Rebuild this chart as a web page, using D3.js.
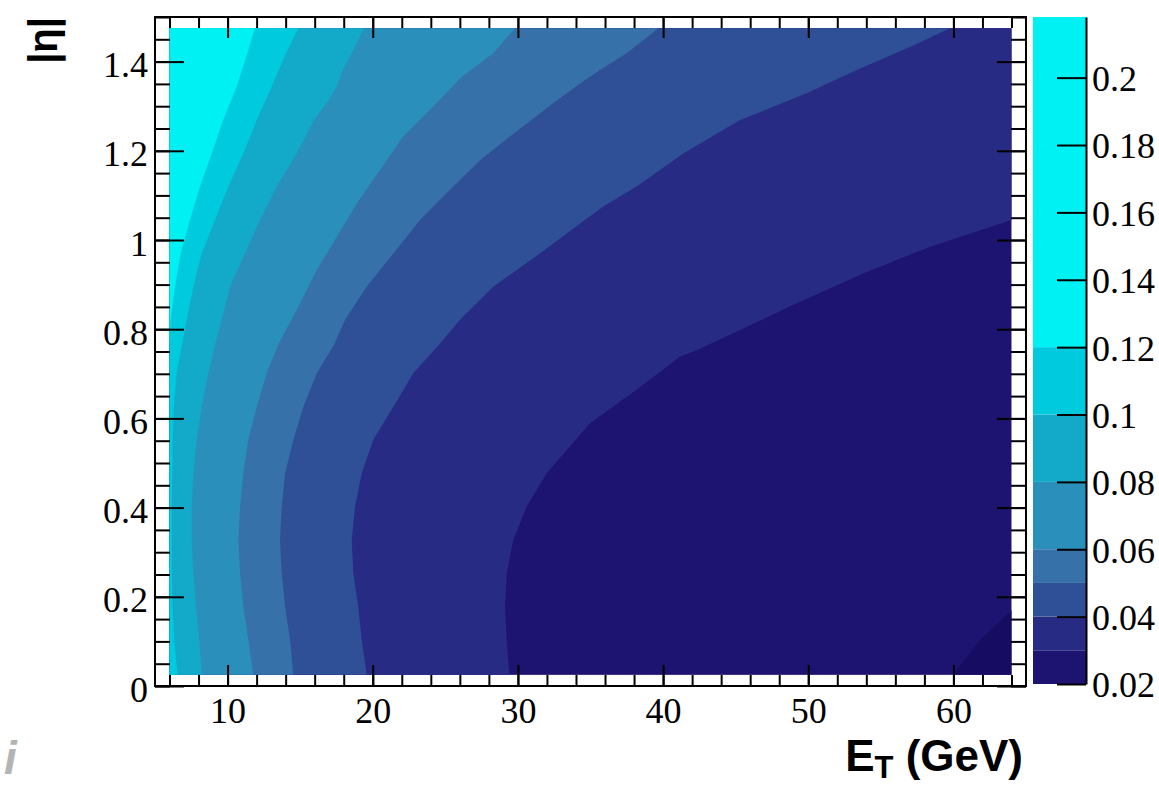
<!DOCTYPE html>
<html>
<head>
<meta charset="utf-8">
<script src="https://cdn.jsdelivr.net/npm/d3@7"></script>
<style>
  body { margin: 0; background: #fff; }
  svg { display: block; }
  .tick text { font-family: "Liberation Serif", "Times New Roman", serif; }
</style>
</head>
<body>
<svg id="chart" width="1159" height="789"></svg>
<script>
// histogram ranges (axis ranges and bin-centre extent of the filled area)
const etRange = [5, 65];
const etaRange = [0, 1.5];
const etCenters = [6, 64];
const etaCenters = [0.025, 1.475];
const zRange = [0.02, 0.218];

// contour levels and fill colours of the bands above each level
const levels = [0.02, 0.03, 0.04, 0.05, 0.06, 0.08, 0.10, 0.12];
const bandColors = ['#1d1371', '#272b84', '#2f5096', '#3672a9', '#2a8fbb', '#13aaca', '#00cadd', '#00f1f3'];
const belowColor = '#160d62';

// contour lines, [E_T, |eta|], from top/right edge to bottom/left edge
const contour012 = [[11.89, 1.475], [11.36, 1.419], [10.63, 1.344], [9.70, 1.269], [8.91, 1.194], [8.10, 1.120],
  [7.41, 1.045], [6.77, 0.970], [6.38, 0.895], [6.08, 0.821], [6, 0.77]];
const contour010 = [[14.87, 1.475], [14.02, 1.419], [13.04, 1.344], [12.01, 1.269], [11.08, 1.194], [10.05, 1.120],
  [9.13, 1.045], [8.22, 0.970], [7.64, 0.895], [7.18, 0.821], [6.86, 0.765], [6.49, 0.701], [6.30, 0.626],
  [6.22, 0.552], [6.16, 0.402], [6.16, 0.253], [6.22, 0.178], [6.33, 0.103], [6.55, 0.025]];
const contour008 = [[19.40, 1.475], [18.55, 1.419], [17.93, 1.381], [17.52, 1.344], [16.83, 1.307], [15.95, 1.269],
  [14.76, 1.194], [13.38, 1.120], [12.23, 1.045], [11.20, 0.970], [10.17, 0.895], [9.59, 0.821], [9.13, 0.765],
  [8.67, 0.701], [8.22, 0.626], [7.87, 0.552], [7.64, 0.477], [7.53, 0.402], [7.53, 0.327], [7.64, 0.253],
  [7.82, 0.178], [8.05, 0.103], [8.22, 0.025]];
const contour006 = [[29.80, 1.475], [28.30, 1.419], [26.13, 1.366], [24.40, 1.307], [22.10, 1.232], [20.50, 1.157],
  [18.89, 1.082], [17.52, 1.007], [16.14, 0.933], [14.99, 0.858], [13.49, 0.765], [12.69, 0.701], [12.01, 0.626],
  [11.43, 0.552], [11.08, 0.477], [10.86, 0.402], [10.74, 0.327], [10.86, 0.253], [11.08, 0.178], [11.43, 0.103],
  [11.77, 0.025]];
const contour005 = [[39.67, 1.475], [37.49, 1.419], [35.65, 1.381], [34.28, 1.351], [32.44, 1.307], [29.45, 1.232],
  [27.39, 1.179], [25.55, 1.120], [23.25, 1.045], [21.42, 0.970], [19.58, 0.895], [18.09, 0.821], [17.33, 0.765],
  [16.14, 0.701], [15.22, 0.626], [14.53, 0.552], [13.96, 0.477], [13.73, 0.402], [13.61, 0.327], [13.73, 0.253],
  [13.96, 0.178], [14.30, 0.103], [14.53, 0.025]];
const contour004 = [[59.76, 1.475], [57.01, 1.433], [53.34, 1.381], [49.89, 1.329], [45.30, 1.269], [41.39, 1.194],
  [38.18, 1.120], [35.88, 1.075], [34.28, 1.037], [31.52, 0.970], [28.30, 0.895], [26.01, 0.821], [24.56, 0.765],
  [22.79, 0.701], [21.42, 0.626], [20.04, 0.552], [19.24, 0.477], [18.78, 0.402], [18.55, 0.327], [18.66, 0.253],
  [19.00, 0.178], [19.24, 0.103], [19.58, 0.025]];
const contour003 = [[64, 1.045], [58.39, 0.985], [53.79, 0.925], [49.20, 0.858], [45.30, 0.798], [42.32, 0.753],
  [41.16, 0.738], [38.18, 0.664], [34.97, 0.589], [31.98, 0.477], [30.60, 0.402], [29.68, 0.327], [29.23, 0.253],
  [29.11, 0.178], [29.23, 0.103], [29.41, 0.025]];
const contour002 = [[64, 0.170], [61.83, 0.103], [59.99, 0.025]];

const contourLines = [contour003, contour004, contour005, contour006, contour008, contour010, contour012];

const svg = d3.select('#chart');

const x = d3.scaleLinear().domain(etRange).range([155, 1026]);
const y = d3.scaleLinear().domain(etaRange).range([686, 17]);
const z = d3.scaleLinear().domain(zRange).range([684, 17]);

const line = d3.line().x(d => x(d[0])).y(d => y(d[1]));

// close a contour line along the plot edges on its high-value (upper-left) side
function closeHigh(pts) {
  const first = pts[0];
  const last = pts[pts.length - 1];
  const poly = pts.slice();
  if (last[1] <= etaCenters[0]) poly.push([etCenters[0], etaCenters[0]]);
  poly.push([etCenters[0], etaCenters[1]]);
  if (first[0] >= etCenters[1] && first[1] < etaCenters[1]) poly.push([etCenters[1], etaCenters[1]]);
  return poly;
}

const plot = svg.append('g');

// lowest band fills the whole area
plot.append('rect')
  .attr('x', x(etCenters[0]))
  .attr('y', y(etaCenters[1]))
  .attr('width', x(etCenters[1]) - x(etCenters[0]))
  .attr('height', y(etaCenters[0]) - y(etaCenters[1]))
  .attr('fill', bandColors[0]);

plot.selectAll('path.band')
  .data(contourLines)
  .enter()
  .append('path')
  .attr('class', 'band')
  .attr('d', d => line(closeHigh(d)) + 'Z')
  .attr('fill', (d, i) => bandColors[i + 1]);

// region below the lowest level (bottom right corner)
plot.append('path')
  .attr('d', line(contour002.concat([[etCenters[1], etaCenters[0]]])) + 'Z')
  .attr('fill', belowColor);

// axes: ROOT style, ticks pointing inwards on all four sides
const fmt = d3.format('~g');
const serif = '"Liberation Serif", "Times New Roman", serif';

function style(g) {
  g.select('.domain').remove();
  g.selectAll('.tick line').attr('stroke', '#000').attr('stroke-width', 2);
  g.selectAll('.tick text').attr('fill', '#000').style('font-size', '36px').style('font-family', serif);
}

svg.append('g').attr('transform', 'translate(0,686)')
  .call(d3.axisBottom(x).ticks(30).tickSize(-11).tickFormat('')).call(style);
svg.append('g').attr('transform', 'translate(0,686)')
  .call(d3.axisBottom(x).ticks(6).tickSize(-21).tickPadding(11).tickFormat(fmt)).call(style);
svg.append('g').attr('transform', 'translate(0,17)')
  .call(d3.axisTop(x).ticks(30).tickSize(-11).tickFormat('')).call(style);
svg.append('g').attr('transform', 'translate(0,17)')
  .call(d3.axisTop(x).ticks(6).tickSize(-21).tickFormat('')).call(style);

svg.append('g').attr('transform', 'translate(155,0)')
  .call(d3.axisLeft(y).ticks(30).tickSize(-15).tickFormat('')).call(style);
svg.append('g').attr('transform', 'translate(155,0)')
  .call(d3.axisLeft(y).ticks(8).tickSize(-29).tickPadding(7).tickFormat(fmt)).call(style)
  .selectAll('.tick text').attr('dy', '0.42em');
svg.append('g').attr('transform', 'translate(1026,0)')
  .call(d3.axisRight(y).ticks(30).tickSize(-15).tickFormat('')).call(style);
svg.append('g').attr('transform', 'translate(1026,0)')
  .call(d3.axisRight(y).ticks(8).tickSize(-29).tickFormat('')).call(style);

// frame
svg.append('rect')
  .attr('x', x(etRange[0]))
  .attr('y', y(etaRange[1]))
  .attr('width', x(etRange[1]) - x(etRange[0]))
  .attr('height', y(etaRange[0]) - y(etaRange[1]))
  .attr('fill', 'none')
  .attr('stroke', '#000')
  .attr('stroke-width', 2);

// colour palette
const bandEdges = levels.concat([zRange[1]]);
svg.append('g')
  .selectAll('rect')
  .data(bandColors)
  .enter()
  .append('rect')
  .attr('x', 1033)
  .attr('width', 53)
  .attr('y', (d, i) => z(bandEdges[i + 1]))
  .attr('height', (d, i) => z(bandEdges[i]) - z(bandEdges[i + 1]))
  .attr('fill', d => d);

const zAxis = svg.append('g').attr('transform', 'translate(1086,0)')
  .call(d3.axisRight(z).ticks(10).tickSize(-29).tickSizeOuter(0).tickPadding(6).tickFormat(fmt));
zAxis.select('.domain').attr('stroke', '#000').attr('stroke-width', 2);
zAxis.selectAll('.tick line').attr('stroke', '#000').attr('stroke-width', 2);
zAxis.selectAll('.tick text').attr('fill', '#000').attr('dy', '0.36em')
  .style('font-size', '36px').style('font-family', serif);

// axis titles
const xTitle = svg.append('text')
  .attr('x', 1023)
  .attr('y', 771)
  .attr('text-anchor', 'end')
  .style('font-family', '"Liberation Sans", Arial, sans-serif')
  .style('font-weight', 'bold')
  .style('font-size', '44px')
  .attr('fill', '#000');
xTitle.append('tspan').text('E');
xTitle.append('tspan').attr('dy', 7).style('font-size', '31px').text('T');
xTitle.append('tspan').attr('dy', -7).text(' (GeV)');

svg.append('text')
  .attr('transform', 'translate(57,17) rotate(-90)')
  .attr('text-anchor', 'end')
  .style('font-family', '"Liberation Sans", Arial, sans-serif')
  .style('font-weight', 'bold')
  .style('font-size', '40px')
  .attr('fill', '#000')
  .text('|η|');

// faint letter left over at the bottom-left corner
svg.append('text')
  .attr('x', 4)
  .attr('y', 774)
  .style('font-family', '"Liberation Sans", Arial, sans-serif')
  .style('font-weight', 'bold')
  .style('font-style', 'italic')
  .style('font-size', '46px')
  .attr('fill', '#b4b4b4')
  .text('i');
</script>
</body>
</html>
